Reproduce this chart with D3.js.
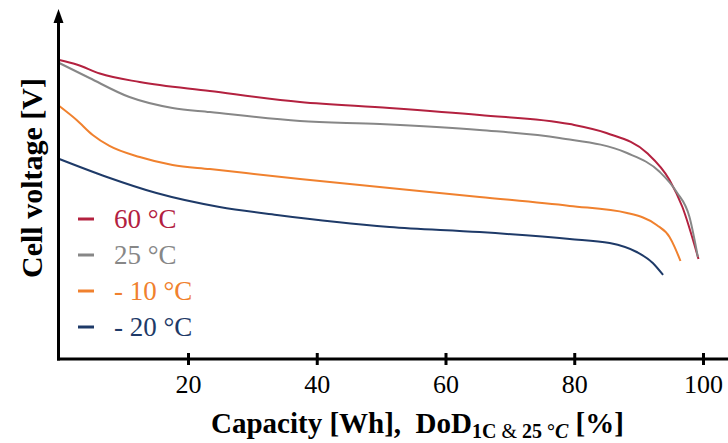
<!DOCTYPE html>
<html>
<head>
<meta charset="utf-8">
<script src="https://cdn.jsdelivr.net/npm/d3@7"></script>
<style>
  html, body { margin: 0; padding: 0; background: #fff; }
  svg { display: block; }
</style>
</head>
<body>
<svg id="chart" width="728" height="443"></svg>
<script>
// ---- data (capacity in Wh / DoD %, cell voltage in V, estimated) ----
const xTicks = [20, 40, 60, 80, 100];
const seriesNames = ["60 °C", "25 °C", "- 10 °C", "- 20 °C"];
const seriesColors = ["#b3213f", "#878787", "#f0812e", "#1e3a68"];

const cap60 = [0, 2.7, 6.3, 12.5, 23.4, 37.4, 51.3, 65.3, 79.3, 85.0, 91.3, 94.8, 96.8, 99.3];
const volt60 = [3.98, 3.95, 3.89, 3.833, 3.773, 3.70, 3.66, 3.613, 3.553, 3.493, 3.36, 3.18, 3.0, 2.653];

const cap25 = [0, 4.7, 10.9, 17.6, 23.4, 37.4, 49.8, 65.3, 77.7, 88.2, 93.3, 95.9, 97.9, 99.2];
const volt25 = [3.96, 3.86, 3.733, 3.66, 3.633, 3.573, 3.553, 3.513, 3.46, 3.36, 3.233, 3.10, 2.933, 2.667];

const capM10 = [0, 2.7, 5.2, 7.8, 12.5, 17.6, 23.4, 37.4, 51.3, 65.3, 79.3, 88.2, 92.8, 94.8, 95.6, 96.5];
const voltM10 = [3.673, 3.58, 3.48, 3.407, 3.333, 3.28, 3.253, 3.187, 3.127, 3.067, 3.007, 2.96, 2.88, 2.80, 2.733, 2.64];

const capM20 = [0, 7.4, 15.1, 24.9, 33.8, 51.3, 65.3, 79.3, 85.5, 89.7, 92.2, 93.8];
const voltM20 = [3.32, 3.20, 3.093, 3.0, 2.947, 2.867, 2.833, 2.787, 2.76, 2.70, 2.627, 2.547];

const series = [
  { name: seriesNames[0], color: seriesColors[0], x: cap60, y: volt60 },
  { name: seriesNames[1], color: seriesColors[1], x: cap25, y: volt25 },
  { name: seriesNames[2], color: seriesColors[2], x: capM10, y: voltM10 },
  { name: seriesNames[3], color: seriesColors[3], x: capM20, y: voltM20 }
];

const FONT = "'Liberation Serif', Tinos, 'Times New Roman', Times, 'DejaVu Serif', serif";

// ---- layout ----
const svg = d3.select("#chart");
const axisX = 58.5, axisY = 359;

const x = d3.scaleLinear().domain([0, 100]).range([59.25, 703]);
const y = d3.scaleLinear().domain([2.0, 4.3]).range([357, 12]);

// curves
const line = d3.line()
  .x(d => x(d[0]))
  .y(d => y(d[1]))
  .curve(d3.curveMonotoneX);

series.forEach(s => {
  const pts = s.x.map((v, i) => [v, s.y[i]]);
  svg.append("path")
    .attr("d", line(pts))
    .attr("fill", "none")
    .attr("stroke", s.color)
    .attr("stroke-width", 2);
});

// x axis line
svg.append("line")
  .attr("x1", axisX - 1.5).attr("x2", 728)
  .attr("y1", axisY).attr("y2", axisY)
  .attr("stroke", "#000").attr("stroke-width", 3);

// y axis line + arrow
svg.append("line")
  .attr("x1", axisX).attr("x2", axisX)
  .attr("y1", 20).attr("y2", axisY + 1.5)
  .attr("stroke", "#000").attr("stroke-width", 3);
svg.append("path")
  .attr("d", `M${axisX},9 L${axisX - 5},23 L${axisX + 5},23 Z`)
  .attr("fill", "#000");

// x ticks via d3 axis
const xAxis = d3.axisBottom(x).tickValues(xTicks).tickSize(0).tickPadding(0).tickFormat(d3.format("d"));
const gx = svg.append("g").attr("transform", `translate(0,${axisY})`).call(xAxis)
  .attr("font-family", FONT).attr("font-size", 26);
gx.select(".domain").remove();
gx.selectAll(".tick line").remove();
gx.selectAll(".tick").append("line")
  .attr("y1", -6).attr("y2", 6)
  .attr("stroke", "#000").attr("stroke-width", 3);
gx.selectAll(".tick text")
  .attr("y", 34)
  .attr("dy", null)
  .attr("fill", "#000")
  .attr("font-family", FONT)
  .attr("font-size", 26);

// y axis title
svg.append("text")
  .attr("transform", "translate(42,178) rotate(-90)")
  .attr("text-anchor", "middle")
  .attr("font-family", FONT)
  .attr("font-size", 30)
  .attr("font-weight", "bold")
  .attr("fill", "#000")
  .text("Cell voltage [V]");

// x axis title
const xt = svg.append("text")
  .attr("x", 211).attr("y", 433)
  .attr("font-family", FONT)
  .attr("font-size", 29)
  .attr("font-weight", "bold")
  .attr("fill", "#000");
xt.append("tspan").text("Capacity [Wh],\u00A0\u00A0DoD");
xt.append("tspan").attr("dy", 5).attr("font-size", 20).text("1C");
xt.append("tspan").attr("font-size", 20).attr("font-weight", "normal").text(" & ");
xt.append("tspan").attr("font-size", 20).text("25 °");
xt.append("tspan").attr("font-size", 20).attr("font-style", "italic").text("C");
xt.append("tspan").attr("dy", -5).text(" [%]");

// legend
const leg = svg.append("g");
series.forEach((s, i) => {
  const cy = 219 + i * 36;
  leg.append("line")
    .attr("x1", 78).attr("x2", 94)
    .attr("y1", cy).attr("y2", cy)
    .attr("stroke", s.color).attr("stroke-width", 3);
  leg.append("text")
    .attr("x", 114).attr("y", cy + 9)
    .attr("font-family", FONT)
    .attr("font-size", 27)
    .attr("fill", s.color)
    .text(s.name);
});
</script>
</body>
</html>
